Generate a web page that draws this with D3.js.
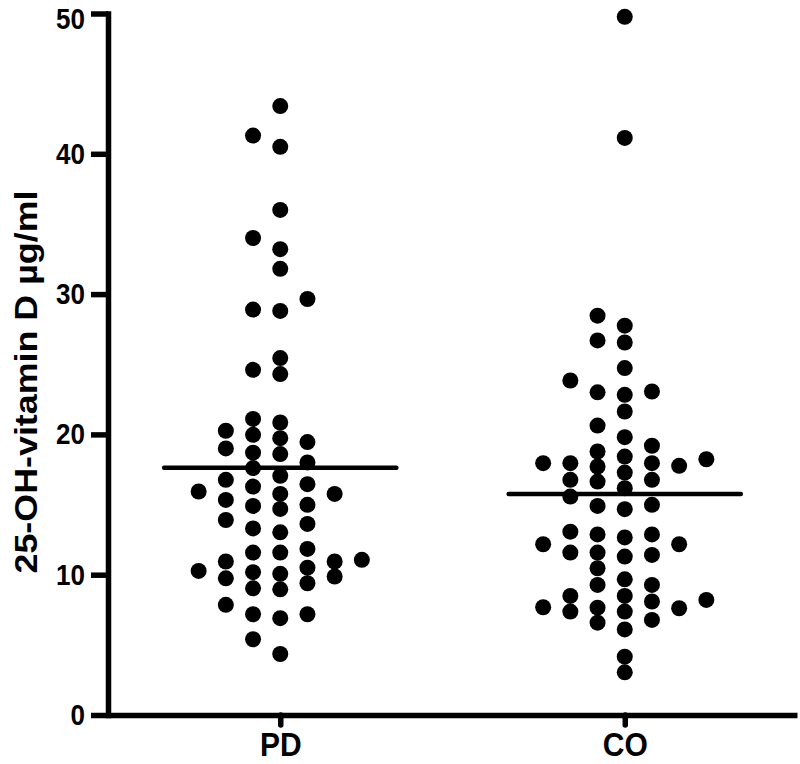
<!DOCTYPE html>
<html>
<head>
<meta charset="utf-8">
<script src="https://cdn.jsdelivr.net/npm/d3@7"></script>
<style>
  html, body { margin: 0; padding: 0; background: #fff; }
  svg { display: block; }
  text { font-family: "Liberation Sans", Arial, Helvetica, sans-serif; font-weight: bold; fill: #000; }
</style>
</head>
<body>
<svg id="chart" width="800" height="764"></svg>
<script>
// ---- data ----
const categories = ["PD", "CO"];
const pdValues = [
  43.4, 41.3, 40.5, 36.0, 34.0, 33.2, 31.8, 29.65, 28.9, 28.8,
  25.44, 24.3, 24.6, 20.85, 19.97, 19.73, 20.26, 21.1, 19.45, 19.0,
  18.6, 18.7, 17.6, 18.0, 17.05, 16.45, 15.93, 15.76, 15.33, 15.76,
  16.28, 16.76, 14.98, 14.69, 14.9, 13.62, 13.02, 13.3, 13.9, 11.84,
  11.58, 10.94, 10.5, 10.94, 10.27, 11.06, 11.58, 10.18, 9.87, 9.39,
  8.96, 9.03, 9.74, 10.06, 7.85, 7.18, 6.9, 7.18, 5.4, 4.35
];
const coValues = [
  49.76, 41.13, 28.46, 27.75, 26.55, 26.7, 24.73, 23.84, 23.0, 22.82,
  23.06, 21.63, 20.63, 19.8, 19.19, 18.78, 18.42, 17.95, 17.71, 17.95,
  17.95, 18.23, 17.28, 17.76, 16.76, 16.64, 16.76, 16.17, 15.57, 14.98,
  14.67, 14.9, 12.87, 12.66, 12.87, 13.07, 12.17, 12.17, 11.58, 11.29,
  11.41, 11.58, 10.46, 9.67, 9.27, 9.27, 8.49, 7.68, 6.58, 8.09,
  8.2, 8.49, 7.37, 7.65, 7.37, 7.61, 6.78, 6.1, 4.16, 3.04
];
const yTicks = [0, 10, 20, 30, 40, 50];
const yLabel = "25-OH-vitamin D \u00B5g/ml";

// ---- layout ----
const svg = d3.select("#chart");
const axisX = 108, axisY = 715, topY = 13.5, rightX = 797;
const stretch = 1.12;          // vertical text stretch seen in the reference
const r = 8;

const y = d3.scaleLinear().domain([0, 50]).range([axisY, topY]);
const x = d3.scalePoint().domain(categories).range([axisX, rightX]).padding(0.5);

const groups = [
  { name: "PD", values: pdValues },
  { name: "CO", values: coValues }
];

// simple column beeswarm (bottom-up)
function swarm(values) {
  const colStep = 3.4 * r;
  const minDy = 1.85 * r;
  const order = [0];
  for (let k = 1; k < 12; k++) order.push(-k, k);
  const pts = values.map(v => ({ v })).sort((a, b) => a.v - b.v);
  const placed = [];
  pts.forEach(p => {
    const py = y(p.v);
    for (const k of order) {
      if (!placed.some(q => q.k === k && Math.abs(q.py - py) < minDy)) {
        p.k = k; p.py = py; p.dx = k * colStep; placed.push(p); break;
      }
    }
  });
  return pts;
}

// ---- axes ----
const gy = svg.append("g")
  .attr("transform", `translate(${axisX},0)`)
  .call(d3.axisLeft(y).tickValues(yTicks).tickSize(17).tickSizeOuter(0).tickPadding(6).tickFormat(d3.format("d")));
gy.select(".domain").attr("stroke", "#000").attr("stroke-width", 5.5).attr("stroke-linecap", "square");
gy.selectAll(".tick line").attr("stroke", "#000").attr("stroke-width", 5.5);
gy.selectAll(".tick text")
  .attr("font-size", 26)
  .attr("dy", d => d === 50 ? "0.5em" : "0.32em")
  .attr("transform", `scale(1,${stretch})`)
  .style("font-family", '"Liberation Sans", Arial, sans-serif')
  .style("font-weight", "bold");

const gx = svg.append("g")
  .attr("transform", `translate(0,${axisY})`)
  .call(d3.axisBottom(x).tickSize(10).tickSizeOuter(0));
gx.select(".domain").attr("stroke", "#000").attr("stroke-width", 5.5);
gx.selectAll(".tick line").attr("stroke", "#000").attr("stroke-width", 5.5).attr("stroke-linecap", "round");
gx.selectAll(".tick text")
  .attr("y", 0).attr("dy", 0)
  .attr("font-size", 30)
  .attr("transform", `translate(0,41) scale(1,${stretch})`)
  .style("font-family", '"Liberation Sans", Arial, sans-serif')
  .style("font-weight", "bold");

// y title
svg.append("text")
  .attr("text-anchor", "middle")
  .attr("font-size", 32)
  .attr("transform", `translate(37,382) scale(1,${stretch}) rotate(-90)`)
  .text(yLabel);

// ---- points & means ----
groups.forEach(g => {
  const cx = x(g.name);
  const pts = swarm(g.values);
  svg.append("g").selectAll("circle")
    .data(pts)
    .join("circle")
    .attr("cx", d => cx + d.dx)
    .attr("cy", d => y(d.v))
    .attr("r", r)
    .attr("fill", "#000");

  const m = d3.mean(g.values);
  const half = 0.337 * x.step();
  svg.append("line")
    .attr("x1", cx - half).attr("x2", cx + half)
    .attr("y1", y(m)).attr("y2", y(m))
    .attr("stroke", "#000").attr("stroke-width", 4.5).attr("stroke-linecap", "round");
});
</script>
</body>
</html>
